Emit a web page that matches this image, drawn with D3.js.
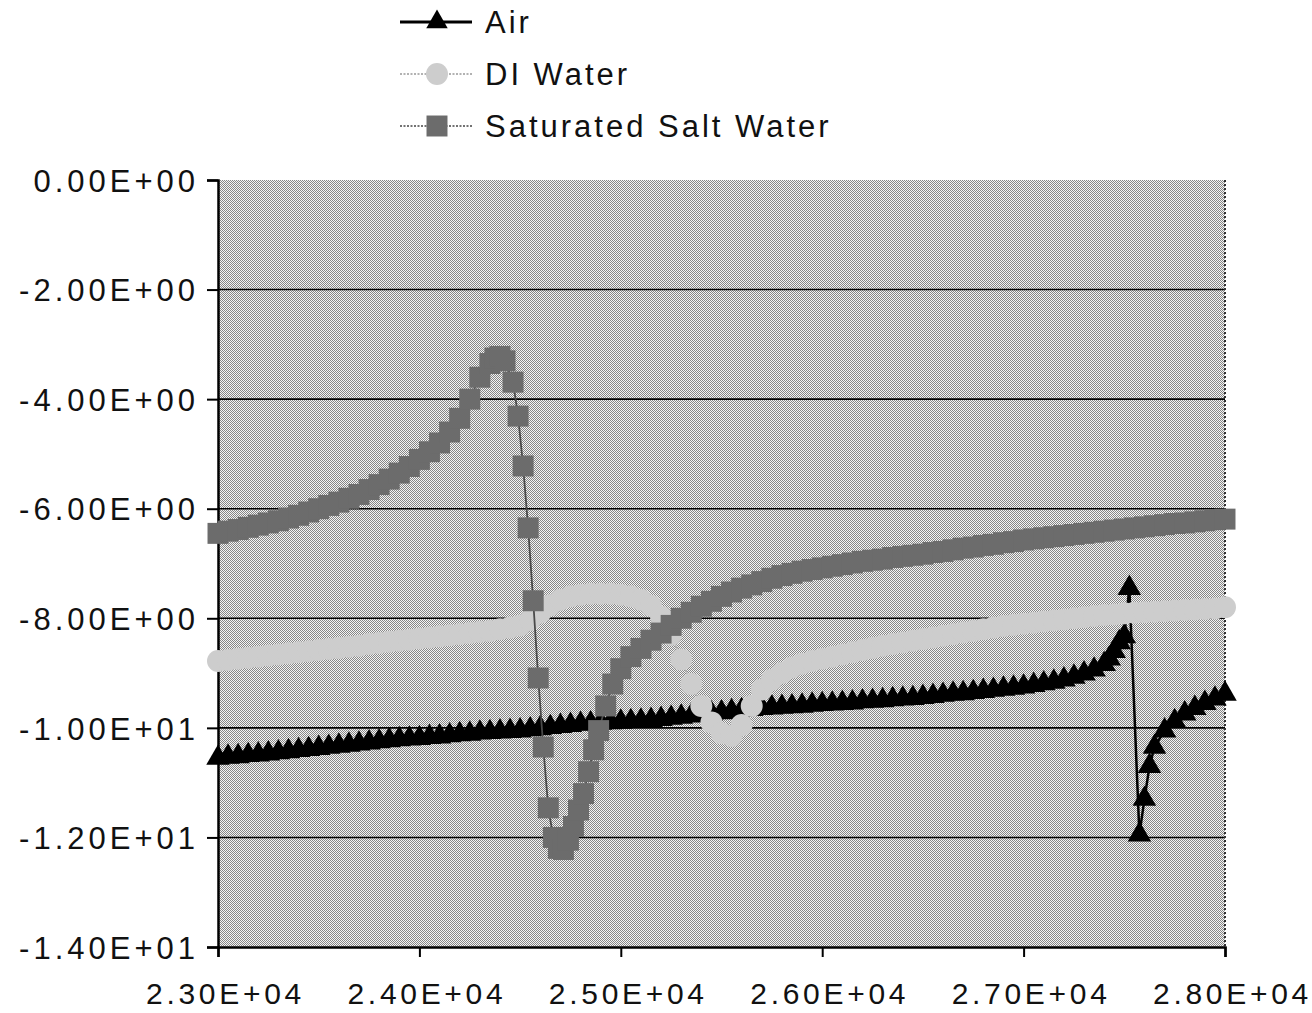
<!DOCTYPE html>
<html lang="en">
<head>
    <meta charset="UTF-8">
    <script src="https://d3js.org/d3.v7.min.js"></script>
    <style>
        body { margin: 0; background: #fff; }
        svg { display: block; }
        text { font-family: "Liberation Sans", Arial, sans-serif; fill: #111; }
    </style>
</head>
<body>
    <svg width="1312" height="1013"></svg>
    <script>
        // series: [x, y] pairs
        let airData = [
            [23000,-10.55],[23050,-10.53],[23100,-10.52],[23150,-10.5],[23200,-10.49],[23250,-10.47],[23300,-10.45],
            [23350,-10.43],[23400,-10.41],[23450,-10.39],[23500,-10.37],[23550,-10.35],[23600,-10.33],[23650,-10.31],
            [23700,-10.29],[23750,-10.27],[23800,-10.25],[23850,-10.23],[23900,-10.21],[23950,-10.2],[24000,-10.19],
            [24050,-10.17],[24100,-10.16],[24150,-10.14],[24200,-10.12],[24250,-10.11],[24300,-10.09],[24350,-10.08],
            [24400,-10.07],[24450,-10.06],[24500,-10.05],[24550,-10.03],[24600,-10.01],[24650,-9.99],[24700,-9.97],
            [24750,-9.95],[24800,-9.93],[24850,-9.92],[24900,-9.91],[24950,-9.9],[25000,-9.89],[25050,-9.88],
            [25100,-9.87],[25150,-9.86],[25200,-9.84],[25250,-9.82],[25300,-9.8],[25350,-9.78],[25400,-9.76],
            [25450,-9.74],[25500,-9.72],[25550,-9.7],[25600,-9.68],[25650,-9.66],[25700,-9.64],[25750,-9.63],
            [25800,-9.62],[25850,-9.61],[25900,-9.6],[25950,-9.58],[26000,-9.57],[26050,-9.56],[26100,-9.55],
            [26150,-9.54],[26200,-9.52],[26250,-9.51],[26300,-9.5],[26350,-9.48],[26400,-9.47],[26450,-9.46],
            [26500,-9.44],[26550,-9.42],[26600,-9.4],[26650,-9.38],[26700,-9.37],[26750,-9.35],[26800,-9.33],
            [26850,-9.31],[26900,-9.29],[26950,-9.27],[27000,-9.25],[27050,-9.22],[27100,-9.19],[27150,-9.16],
            [27200,-9.12],[27250,-9.07],[27300,-9.01],[27350,-8.94],[27400,-8.84],[27425,-8.74],[27450,-8.6],
            [27475,-8.44],[27500,-8.33],[27525,-7.45],[27575,-11.95],[27600,-11.3],[27625,-10.7],[27650,-10.35],
            [27700,-10.05],[27750,-9.88],[27800,-9.74],[27850,-9.64],[27900,-9.55],[27950,-9.47],[28000,-9.38]
        ];
        let diData = [
            [23000,-8.78],[23050,-8.76],[23100,-8.74],[23150,-8.72],[23200,-8.7],[23250,-8.68],[23300,-8.66],
            [23350,-8.64],[23400,-8.62],[23450,-8.6],[23500,-8.58],[23550,-8.56],[23600,-8.54],[23650,-8.52],
            [23700,-8.5],[23750,-8.47],[23800,-8.45],[23850,-8.43],[23900,-8.41],[23950,-8.39],[24000,-8.37],
            [24050,-8.35],[24100,-8.33],[24150,-8.31],[24200,-8.29],[24250,-8.27],[24300,-8.25],[24350,-8.23],
            [24400,-8.2],[24450,-8.17],[24500,-8.13],[24550,-8.03],[24600,-7.9],[24650,-7.76],[24700,-7.66],
            [24750,-7.6],[24800,-7.57],[24850,-7.55],[24900,-7.55],[24950,-7.55],[25000,-7.57],[25050,-7.6],
            [25100,-7.66],[25150,-7.77],[25200,-7.97],[25250,-8.3],[25300,-8.75],[25350,-9.2],[25400,-9.6],
            [25450,-9.9],[25500,-10.1],[25550,-10.15],[25600,-9.95],[25650,-9.6],[25700,-9.3],[25750,-9.12],
            [25800,-9.0],[25850,-8.9],[25900,-8.83],[25950,-8.78],[26000,-8.74],[26050,-8.7],[26100,-8.66],
            [26150,-8.62],[26200,-8.58],[26250,-8.54],[26300,-8.5],[26350,-8.47],[26400,-8.44],[26450,-8.41],
            [26500,-8.38],[26550,-8.35],[26600,-8.32],[26650,-8.29],[26700,-8.26],[26750,-8.23],[26800,-8.2],
            [26850,-8.17],[26900,-8.14],[26950,-8.12],[27000,-8.1],[27050,-8.08],[27100,-8.06],[27150,-8.04],
            [27200,-8.02],[27250,-8.0],[27300,-7.98],[27350,-7.96],[27400,-7.94],[27450,-7.93],[27500,-7.91],
            [27550,-7.9],[27600,-7.89],[27650,-7.88],[27700,-7.87],[27750,-7.86],[27800,-7.85],[27850,-7.84],
            [27900,-7.83],[27950,-7.82],[28000,-7.8]
        ];
        let saltData = [
            [23000,-6.45],[23050,-6.41],[23100,-6.38],[23150,-6.34],[23200,-6.3],[23250,-6.26],[23300,-6.22],
            [23350,-6.17],[23400,-6.12],[23450,-6.06],[23500,-6.0],[23550,-5.94],[23600,-5.88],[23650,-5.81],
            [23700,-5.74],[23750,-5.65],[23800,-5.56],[23850,-5.46],[23900,-5.35],[23950,-5.23],[24000,-5.1],
            [24050,-4.96],[24100,-4.8],[24150,-4.6],[24200,-4.35],[24250,-4.0],[24300,-3.6],[24350,-3.35],
            [24375,-3.25],[24400,-3.22],[24425,-3.3],[24465,-3.69],[24490,-4.31],[24515,-5.22],[24540,-6.35],
            [24565,-7.68],[24590,-9.09],[24615,-10.35],[24640,-11.46],[24665,-12.0],[24690,-12.2],[24715,-12.22],
            [24740,-12.05],[24765,-11.8],[24790,-11.5],[24815,-11.2],[24840,-10.8],[24865,-10.4],[24890,-10.05],
            [24925,-9.6],[24960,-9.2],[25000,-8.92],[25050,-8.7],[25100,-8.55],[25150,-8.4],[25200,-8.27],
            [25250,-8.13],[25300,-8.0],[25350,-7.89],[25400,-7.78],[25450,-7.69],[25500,-7.6],[25550,-7.52],
            [25600,-7.45],[25650,-7.39],[25700,-7.33],[25750,-7.27],[25800,-7.22],[25850,-7.18],[25900,-7.14],
            [25950,-7.11],[26000,-7.08],[26050,-7.05],[26100,-7.02],[26150,-6.99],[26200,-6.96],[26250,-6.94],
            [26300,-6.92],[26350,-6.89],[26400,-6.87],[26450,-6.85],[26500,-6.83],[26550,-6.8],[26600,-6.78],
            [26650,-6.75],[26700,-6.72],[26750,-6.7],[26800,-6.67],[26850,-6.65],[26900,-6.62],[26950,-6.6],
            [27000,-6.57],[27050,-6.55],[27100,-6.53],[27150,-6.51],[27200,-6.49],[27250,-6.47],[27300,-6.45],
            [27350,-6.43],[27400,-6.41],[27450,-6.39],[27500,-6.37],[27550,-6.35],[27600,-6.33],[27650,-6.31],
            [27700,-6.29],[27750,-6.27],[27800,-6.26],[27850,-6.24],[27900,-6.22],[27950,-6.2],[28000,-6.19]
        ];

        let seriesNames = ["Air", "DI Water", "Saturated Salt Water"];
        let xTicks = [23000, 24000, 25000, 26000, 27000, 28000];
        let yTicks = [0, -2, -4, -6, -8, -10, -12, -14];

        // excel style 0.00E+00
        function sci(v) {
            let parts = v.toExponential(2).split("e");
            let e = +parts[1];
            return parts[0] + "E" + (e < 0 ? "-" : "+") + String(Math.abs(e)).padStart(2, "0");
        }

        let svg = d3.select("svg");
        let plotL = 218, plotR = 1225, plotT = 180, plotB = 947;

        let x = d3.scaleLinear().domain([23000, 28000]).range([plotL, plotR]);
        let y = d3.scaleLinear().domain([-14, 0]).range([plotB, plotT]);

        // dithered grey plot background
        let defs = svg.append("defs");
        let pat = defs.append("pattern")
            .attr("id", "dots")
            .attr("width", 2).attr("height", 2)
            .attr("patternUnits", "userSpaceOnUse");
        pat.append("rect").attr("width", 2).attr("height", 2).attr("fill", "#f4f4f4");
        pat.append("rect").attr("width", 1).attr("height", 1).attr("fill", "#868686");
        pat.append("rect").attr("x", 1).attr("y", 1).attr("width", 1).attr("height", 1).attr("fill", "#868686");

        svg.append("rect")
            .attr("x", plotL).attr("y", plotT)
            .attr("width", plotR - plotL).attr("height", plotB - plotT)
            .attr("fill", "url(#dots)");

        // gridlines
        svg.append("g")
            .selectAll("line")
            .data(yTicks.filter(d => d !== 0 && d !== -14))
            .enter().append("line")
            .attr("x1", plotL).attr("x2", plotR)
            .attr("y1", d => y(d)).attr("y2", d => y(d))
            .attr("stroke", "#000")
            .attr("stroke-width", 1.6);

        // right border of plot area
        svg.append("line")
            .attr("x1", plotR).attr("x2", plotR)
            .attr("y1", plotT).attr("y2", plotB)
            .attr("stroke", "#333")
            .attr("stroke-width", 2)
            .attr("stroke-dasharray", "2,2");

        // axes
        let yAxis = svg.append("g")
            .attr("transform", `translate(${plotL},0)`)
            .call(d3.axisLeft(y).tickValues(yTicks).tickFormat(sci).tickSize(11).tickPadding(8));
        let xAxis = svg.append("g")
            .attr("transform", `translate(0,${plotB})`)
            .call(d3.axisBottom(x).tickValues(xTicks).tickFormat(sci).tickSize(10).tickPadding(26));

        [yAxis, xAxis].forEach(a => {
            a.select(".domain").attr("stroke", "#000").attr("stroke-width", 2.5);
            a.selectAll(".tick line").attr("stroke", "#000").attr("stroke-width", 2);
            a.selectAll(".tick text")
                .style("font-family", "'Liberation Sans', Arial, sans-serif")
                .attr("fill", "#111");
        });
        yAxis.selectAll(".tick text").style("font-size", "31px").style("letter-spacing", "4px").attr("dy", "0.36em");
        xAxis.selectAll(".tick text").style("font-size", "30px").style("letter-spacing", "3.7px").attr("dx", "7");

        let line = d3.line().x(d => x(d[0])).y(d => y(d[1]));

        let styles = [
            { data: airData, stroke: "#000", width: 2.5, fill: "#000", symbol: d3.symbolTriangle, size: 240 },
            { data: diData, stroke: "#b4b4b4", width: 1.5, fill: "#cdcdcd", symbol: d3.symbolCircle, size: 380 },
            { data: saltData, stroke: "#4a4a4a", width: 1.8, fill: "#6c6c6c", symbol: d3.symbolSquare, size: 440 }
        ];

        styles.forEach(s => {
            let g = svg.append("g");
            g.append("path")
                .datum(s.data)
                .attr("d", line)
                .attr("fill", "none")
                .attr("stroke", s.stroke)
                .attr("stroke-width", s.width);
            g.selectAll("path.m")
                .data(s.data)
                .enter().append("path")
                .attr("class", "m")
                .attr("transform", d => `translate(${x(d[0])},${y(d[1])})`)
                .attr("d", d3.symbol().type(s.symbol).size(s.size))
                .attr("fill", s.fill);
        });

        // legend
        let legend = svg.append("g");
        seriesNames.forEach((name, i) => {
            let s = styles[i];
            let ly = 22 + i * 52;
            legend.append("line")
                .attr("x1", 400).attr("x2", 472)
                .attr("y1", ly).attr("y2", ly)
                .attr("stroke", i === 0 ? "#000" : (i === 1 ? "#999" : "#444"))
                .attr("stroke-width", i === 0 ? 3 : 1.5)
                .attr("stroke-dasharray", i === 0 ? null : "2,1.5");
            legend.append("path")
                .attr("transform", `translate(437,${ly})`)
                .attr("d", d3.symbol().type(s.symbol).size(i === 0 ? 200 : s.size))
                .attr("fill", s.fill);
            legend.append("text")
                .attr("x", 485)
                .attr("y", ly)
                .attr("dy", "0.36em")
                .style("font-size", "31px")
                .style("letter-spacing", "3px")
                .text(name);
        });
    </script>
</body>
</html>
